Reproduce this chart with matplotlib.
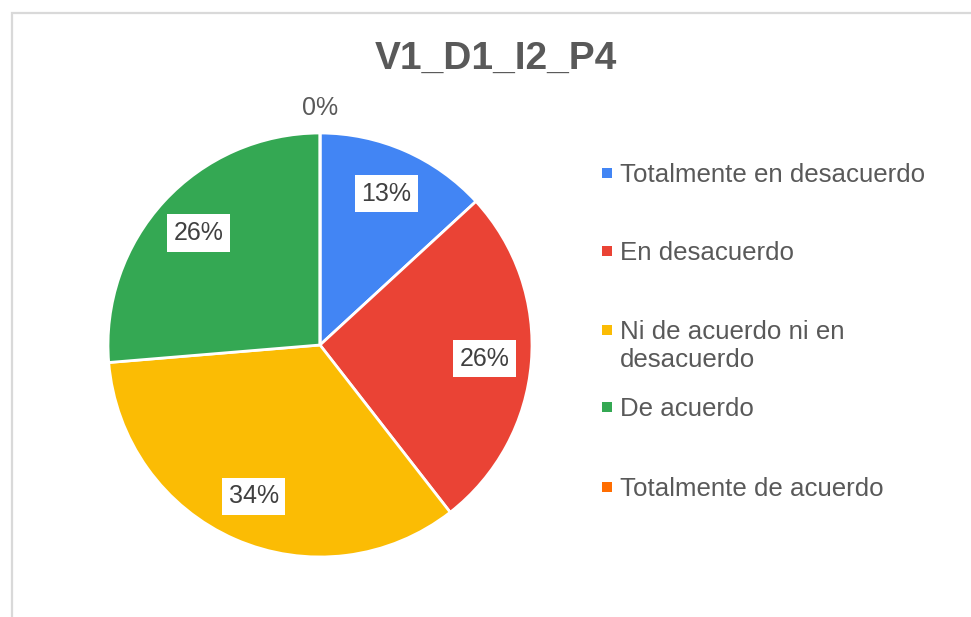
import matplotlib
matplotlib.use("Agg")
from matplotlib import pyplot as plt
from matplotlib.patches import Rectangle

plt.rcParams["font.family"] = ["Liberation Sans", "DejaVu Sans"]

TITLE = "V1_D1_I2_P4"
categories = [
    "Totalmente en desacuerdo",
    "En desacuerdo",
    "Ni de acuerdo ni en\ndesacuerdo",
    "De acuerdo",
    "Totalmente de acuerdo",
]
counts = [5, 10, 13, 10, 0]
colors = ["#4285F4", "#EA4335", "#FBBC04", "#34A853", "#FF6D01"]

W, H = 971, 617
fig = plt.figure(figsize=(W / 100, H / 100), dpi=100)

# light frame (only top/left visible in the crop)
fig.patches.append(Rectangle((12 / W, -0.1), 1.2, (H - 13) / H + 0.1,
                             transform=fig.transFigure, fill=False,
                             edgecolor="#d9d9d9", linewidth=1.6))

cx, cy, r = 320, 345, 212
ax = fig.add_axes([(cx - r) / W, (H - cy - r) / H, 2 * r / W, 2 * r / H])
wedges, texts, autotexts = ax.pie(
    counts, colors=colors, startangle=90, counterclock=False, radius=1,
    autopct=lambda p: f"{p:.0f}%", pctdistance=0.78,
    wedgeprops=dict(edgecolor="white", linewidth=2),
    textprops=dict(fontsize=18, color="#404040"))
ax.set_xlim(-1, 1)
ax.set_ylim(-1, 1)
ax.set_aspect("equal")
ax.axis("off")

for val, t in zip(counts, autotexts):
    if val == 0:
        t.set_position((0, 1.12))
        t.set_color("#595959")
    else:
        t.set_bbox(dict(boxstyle="square,pad=0.27", facecolor="white",
                        edgecolor="none"))

fig.text(496 / W, 1 - 59 / H, TITLE, fontsize=28, fontweight="bold",
         color="#595959", ha="center", va="center")

# legend, laid out like the Sheets chart
leg_y = [173, 251, 330, 407, 487]
for lab, col, y in zip(categories, colors, leg_y):
    fig.patches.append(Rectangle(((607 - 5) / W, 1 - (y + 5) / H), 10 / W, 10 / H,
                                 transform=fig.transFigure, facecolor=col,
                                 edgecolor="none"))
    fig.text(620 / W, 1 - (y - 10) / H, lab, fontsize=18.6, color="#595959",
             ha="left", va="top", linespacing=1.2)

fig.savefig("out.png", dpi=100)
